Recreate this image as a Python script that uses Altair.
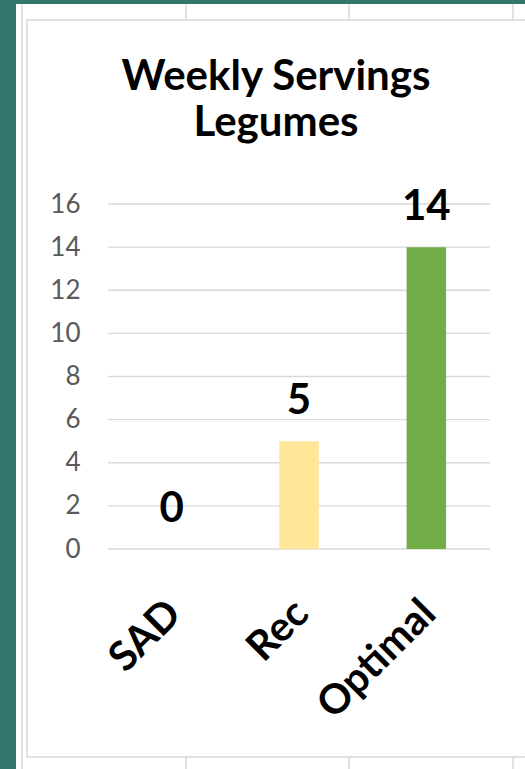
import altair as alt
import pandas as pd

# ---- data ----
categories = ["SAD", "Rec", "Optimal"]
servings = [0, 5, 14]
y_ticks = [0, 2, 4, 6, 8, 10, 12, 14, 16]
title_lines = ["Weekly Servings", "Legumes"]

bar_colors = ["#A5A5A5", "#FFE699", "#70AD47"]

df = pd.DataFrame({"cat": categories, "val": servings})
grid_df = pd.DataFrame({"t": y_ticks})
one = pd.DataFrame({"d": [0]})

W, H = 382, 345
PL, PT = 108, 204  # plot offset in page

FONT = "Lato"

x_enc = alt.X(
    "cat:N",
    sort=categories,
    scale=alt.Scale(paddingInner=0.69, paddingOuter=0.345),
    axis=alt.Axis(
        title=None, domain=False, ticks=False, labelAngle=315,
        labelAlign="right", labelBaseline="top", labelPadding=44,
        labelOffset=-11,
        labelFont=FONT, labelFontSize=41, labelFontWeight="bold",
        labelColor="#000000", zindex=2,
    ),
)
y_scale = alt.Scale(domain=[0, 16], nice=False, zero=True)

# decorative sheet background
panel = alt.Chart(one).mark_rect(color="#FFFFFF").encode(
    x=alt.value(16 - PL), x2=alt.value(525 - PL),
    y=alt.value(4 - PT), y2=alt.value(769 - PT),
)
border = alt.Chart(one).mark_rect(fillOpacity=0, stroke="#D9D9D9", strokeWidth=1.5).encode(
    x=alt.value(27 - PL), x2=alt.value(540 - PL),
    y=alt.value(20 - PT), y2=alt.value(757 - PT),
)
left_line = alt.Chart(one).mark_rule(color="#D9D9D9", strokeWidth=1.5).encode(
    x=alt.value(22 - PL), y=alt.value(4 - PT), y2=alt.value(769 - PT),
)
col_lines = []
for cx in (186, 349, 513):
    col_lines.append(alt.Chart(one).mark_rule(color="#D9D9D9", strokeWidth=1.5).encode(
        x=alt.value(cx - PL), y=alt.value(4 - PT), y2=alt.value(20 - PT)))
    col_lines.append(alt.Chart(one).mark_rule(color="#D9D9D9", strokeWidth=1.5).encode(
        x=alt.value(cx - PL), y=alt.value(757 - PT), y2=alt.value(769 - PT)))

title_mark = alt.Chart(one).mark_text(
    text=title_lines, font=FONT, fontSize=42, fontWeight="bold", color="#000000",
    align="center", baseline="alphabetic", lineHeight=46,
).encode(x=alt.value(276 - PL), y=alt.value(90 - PT))

grid = alt.Chart(grid_df).mark_rule(color="#D9D9D9", strokeWidth=1.3).encode(
    y=alt.Y("t:Q", scale=y_scale),
)

bars = alt.Chart(df).mark_bar().encode(
    x=x_enc,
    y=alt.Y(
        "val:Q", scale=y_scale, title=None,
        axis=alt.Axis(
            values=y_ticks, grid=False, domain=False, ticks=False,
            labelPadding=28, labelFont=FONT, labelFontSize=26,
            labelColor="#595959", zindex=2,
        ),
    ),
    color=alt.Color("cat:N", scale=alt.Scale(domain=categories, range=bar_colors), legend=None),
)

labels = alt.Chart(df).mark_text(
    font=FONT, fontSize=42, fontWeight="bold", color="#000000",
    baseline="alphabetic", dy=-27,
).encode(
    x=alt.X("cat:N", sort=categories),
    y=alt.Y("val:Q", scale=y_scale),
    text=alt.Text("val:Q"),
)

chart = alt.layer(panel, border, left_line, *col_lines, title_mark, grid, bars, labels).properties(
    width=W, height=H,
    autosize=alt.AutoSizeParams(type="none"),
    padding={"left": PL, "top": PT, "right": 525 - PL - W, "bottom": 769 - PT - H},
    background="#33756C",
).configure_view(stroke=None)

chart.save("out.html", embed_options={"renderer": "svg", "actions": False})
